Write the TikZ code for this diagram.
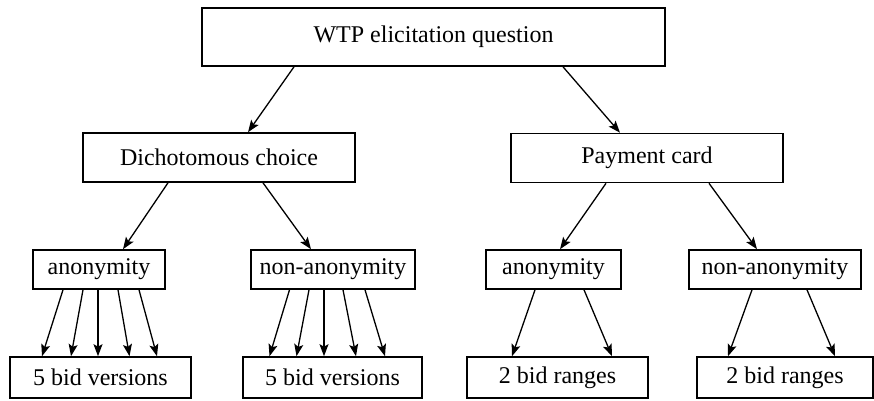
\documentclass[tikz,border=0pt]{standalone}
\usepackage{fontspec}
\setmainfont{Liberation Serif}
\usetikzlibrary{arrows.meta}
\tikzset{
    box/.style={draw, line width=1.6pt, inner sep=0pt, font=\fontsize{24}{28}\selectfont},
    arr/.style={-{Stealth[length=12pt,width=9pt,inset=2.5pt]}, line width=1.3pt}
}
\begin{document}
\begin{tikzpicture}[x=1pt,y=-1pt]
        \useasboundingbox (0,0) rectangle (874,400);
        \node[box, minimum width=463pt, minimum height=58pt] (wtp) at (433.5,37) {WTP elicitation question};
        \node[box, minimum width=272pt, minimum height=49pt] (dc) at (219,157.5) {Dichotomous choice};
        \node[box, minimum width=272pt, minimum height=49pt] (pc) at (647,158) {Payment card};
        \node[box, minimum width=132pt, minimum height=39pt] (an1) at (99,269.5) {anonymity};
        \node[box, minimum width=164pt, minimum height=39pt] (na1) at (333,269.5) {non-anonymity};
        \node[box, minimum width=135pt, minimum height=39pt] (an2) at (553.5,269.5) {anonymity};
        \node[box, minimum width=172pt, minimum height=39pt] (na2) at (775,269.5) {non-anonymity};
        \node[box, minimum width=181pt, minimum height=41pt] (bv1) at (100.5,377.5) {5 bid versions};
        \node[box, minimum width=179pt, minimum height=41pt] (bv2) at (332.5,377.5) {5 bid versions};
        \node[box, minimum width=181pt, minimum height=41pt] (br1) at (557.5,377.5) {2 bid ranges};
        \node[box, minimum width=176pt, minimum height=41pt] (br2) at (785,377.5) {2 bid ranges};
        \draw[arr] ([xshift=-139.5pt]wtp.south) -- ([xshift=29pt]dc.north);
        \draw[arr] ([xshift=129.5pt]wtp.south) -- ([xshift=-27pt]pc.north);
        \draw[arr] ([xshift=-51pt]dc.south) -- ([xshift=24pt]an1.north);
        \draw[arr] ([xshift=44pt]dc.south) -- ([xshift=-22pt]na1.north);
        \draw[arr] ([xshift=-41pt]pc.south) -- ([xshift=6.5pt]an2.north);
        \draw[arr] ([xshift=62pt]pc.south) -- ([xshift=-18pt]na2.north);
        \draw[arr] ([xshift=-36pt]an1.south) -- ([xshift=-58.5pt]bv1.north);
        \draw[arr] ([xshift=-16pt]an1.south) -- ([xshift=-29.5pt]bv1.north);
        \draw[arr] ([xshift=-1pt]an1.south) -- ([xshift=-2.5pt]bv1.north);
        \draw[arr] ([xshift=19pt]an1.south) -- ([xshift=29pt]bv1.north);
        \draw[arr] ([xshift=40pt]an1.south) -- ([xshift=56.5pt]bv1.north);
        \draw[arr] ([xshift=-43.5pt]na1.south) -- ([xshift=-63pt]bv2.north);
        \draw[arr] ([xshift=-24pt]na1.south) -- ([xshift=-36pt]bv2.north);
        \draw[arr] ([xshift=-9pt]na1.south) -- ([xshift=-8.5pt]bv2.north);
        \draw[arr] ([xshift=10pt]na1.south) -- ([xshift=23.5pt]bv2.north);
        \draw[arr] ([xshift=32pt]na1.south) -- ([xshift=52.5pt]bv2.north);
        \draw[arr] ([xshift=-18.5pt]an2.south) -- ([xshift=-45.5pt]br1.north);
        \draw[arr] ([xshift=30.5pt]an2.south) -- ([xshift=54.5pt]br1.north);
        \draw[arr] ([xshift=-23pt]na2.south) -- ([xshift=-57pt]br2.north);
        \draw[arr] ([xshift=32pt]na2.south) -- ([xshift=50pt]br2.north);
    \end{tikzpicture}
\end{document}
